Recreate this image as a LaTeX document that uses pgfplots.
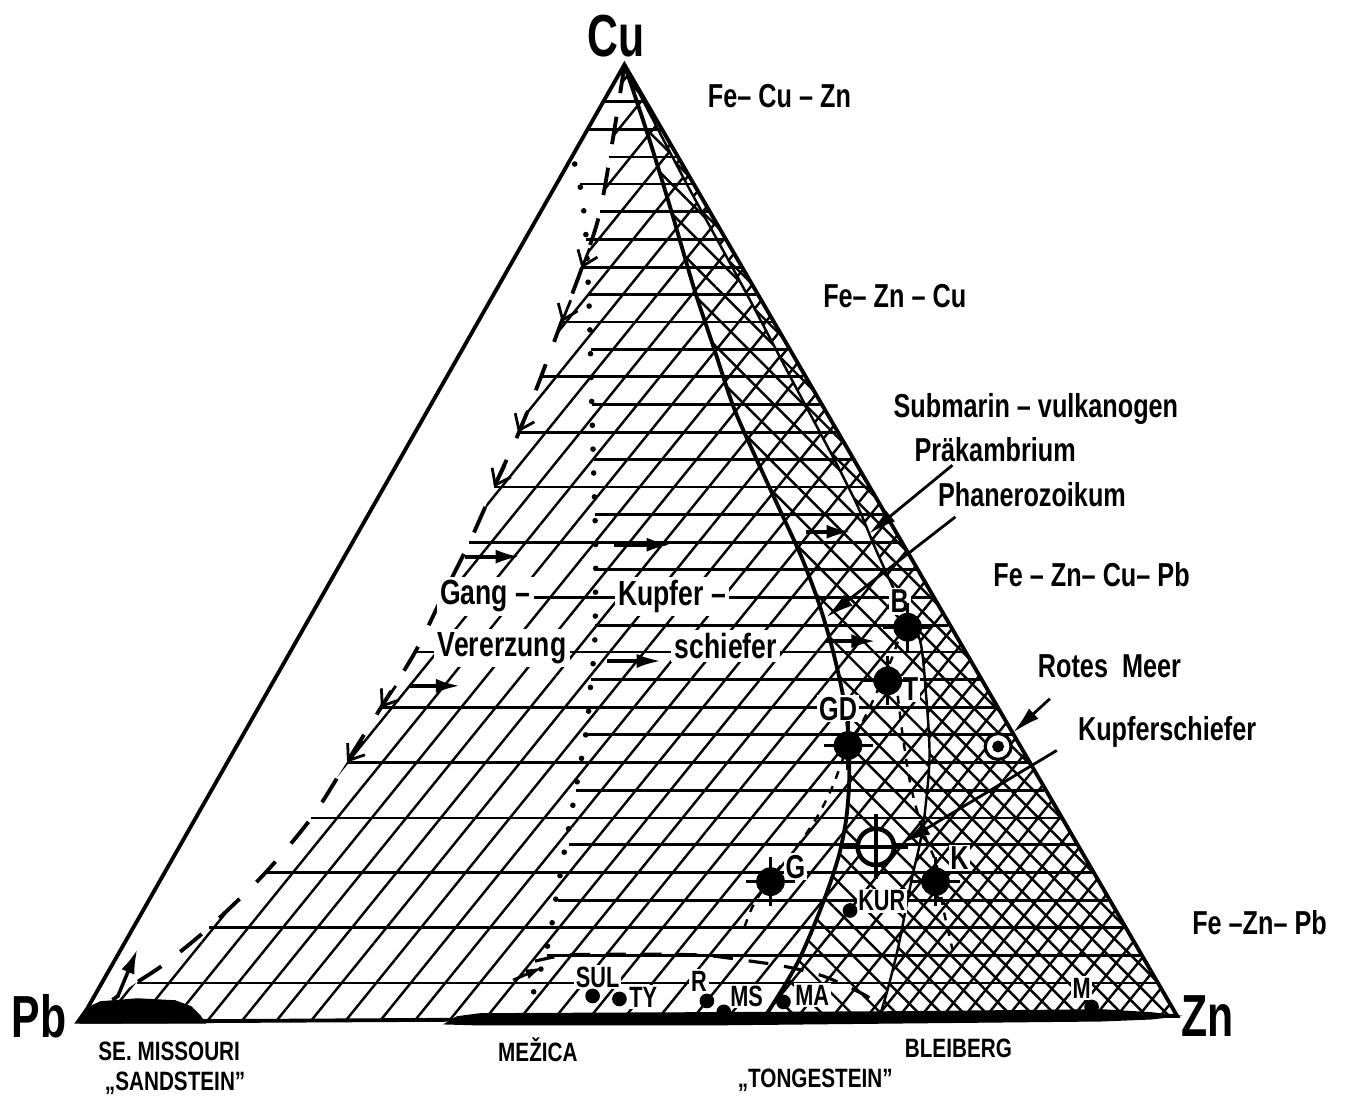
\documentclass[border=0pt]{standalone}
\usepackage{pgfplots}
\pgfplotsset{compat=1.18}
\usetikzlibrary{patterns.meta,arrows.meta}
\usepackage{fontspec}
\setmainfont{Liberation Sans}
\newfontfamily\cf[FakeStretch=0.76]{Liberation Sans}
\newfontfamily\cfs[FakeStretch=0.74]{Liberation Sans}
\newfontfamily\cfb[FakeStretch=0.78]{Liberation Sans}
\newfontfamily\cfbig[FakeStretch=0.72]{Liberation Sans}
\newcommand{\myMf}{\cf\bfseries\fontsize{9.5}{11}\selectfont}
\newcommand{\myLf}{\cf\bfseries\fontsize{10}{12}\selectfont}
\newcommand{\mySf}{\cfs\bfseries\fontsize{8.4}{10}\selectfont}
\newcommand{\myBf}{\cfb\bfseries\fontsize{7.6}{9}\selectfont}
\newcommand{\myBig}{\cfbig\bfseries\fontsize{17}{18}\selectfont}
\begin{document}
\begin{tikzpicture}
\begin{axis}[scale only axis, width=13.47cm, height=11.10cm,
  xmin=0, xmax=1347, ymin=0, ymax=1110, y dir=reverse,
  hide axis, clip=false]
\path (axis cs:0,0) rectangle (axis cs:1347,1110);

% ---- / hatching (right of dashed line)
\addplot[draw=none, pattern={Lines[angle=51,distance=0.27cm,line width=0.7pt]}] coordinates {
(620,65) (610,130) (595,215) (577,270) (557,323) (535,382) (513,437) (488,492) (463,548)
(437,600) (410,655) (375,712) (340,768) (305,823) (257,880) (200,935) (157,970) (127,990)
(95,1012) (72,1028) (1176,1022)} -- cycle;

% ---- \ hatching (right of curve A)
\addplot[draw=none, pattern={Lines[angle=135,distance=0.21cm,line width=0.7pt]}] coordinates {
(620,65) (645,140) (668,215) (690,290) (710,350) (730,410) (752,460) (775,510) (798,560)
(815,605) (828,648) (838,690) (844,725) (846,755) (846,790) (843,825) (836,860) (824,897)
(810,933) (795,967) (779,995) (762,1022) (1176,1022)} -- cycle;

% ---- dense band (right of curve B)
\addplot[draw=none, fill=white] coordinates {
(620,65) (680,180) (740,290) (790,385) (830,460) (855,510) (873,553) (897,605) (917,643)
(923,693) (927,760) (922,820) (917,850) (910,880) (903,915) (895,955) (885,995) (877,1022)
(1176,1022)} -- cycle;
\addplot[draw=none, pattern={Lines[angle=51,distance=0.17cm,line width=0.7pt]}] coordinates {
(620,65) (680,180) (740,290) (790,385) (830,460) (855,510) (873,553) (897,605) (917,643)
(923,693) (927,760) (922,820) (917,850) (910,880) (903,915) (895,955) (885,995) (877,1022)
(1176,1022)} -- cycle;
\addplot[draw=none, pattern={Lines[angle=135,distance=0.16cm,line width=0.7pt]}] coordinates {
(620,65) (680,180) (740,290) (790,385) (830,460) (855,510) (873,553) (897,605) (917,643)
(923,693) (927,760) (922,820) (917,850) (910,880) (903,915) (895,955) (885,995) (877,1022)
(1176,1022)} -- cycle;

% ---- horizontal lines
\addplot[black, line width=0.8pt, unbounded coords=jump] coordinates {
(599,102) (640,102) (0,nan)
(583,130) (656,130) (0,nan)
(605,158) (672,158) (0,nan)
(575,185) (688,185) (0,nan)
(595,213) (704,213) (0,nan)
(581,241) (720,241) (0,nan)
(577,269) (737,269) (0,nan)
(583,296) (752,296) (0,nan)
(557,324) (768,324) (0,nan)
(586,352) (785,352) (0,nan)
(536,379) (800,379) (0,nan)
(587,407) (817,407) (0,nan)
(514,435) (833,435) (0,nan)
(589,462) (849,462) (0,nan)
(489,490) (865,490) (0,nan)
(590,518) (881,518) (0,nan)
(464,546) (897,546) (0,nan)
(591,573) (913,573) (0,nan)
(437,601) (929,601) (0,nan)
(590,629) (946,629) (0,nan)
(410,656) (961,656) (0,nan)
(586,684) (978,684) (0,nan)
(375,712) (994,712) (0,nan)
(581,739) (1010,739) (0,nan)
(341,767) (1026,767) (0,nan)
(571,795) (1042,795) (0,nan)
(305,823) (1058,823) (0,nan)
(564,850) (1074,850) (0,nan)
(259,878) (1090,878) (0,nan)
(553,906) (1107,906) (0,nan)
(202,933) (1122,933) (0,nan)
(542,961) (1139,961) (0,nan)
(130,989) (1155,989)};

% ---- base deposits
\addplot[draw=black, fill=black] coordinates {
(68,1029) (78,1015) (93,1008) (130,1005) (168,1007) (184,1013) (193,1022) (198,1029)} -- cycle;
\addplot[draw=black, fill=black] coordinates {
(440,1030) (452,1023) (475,1020) (700,1019) (900,1018) (1100,1016) (1150,1019) (1176,1022)
(1150,1025) (1100,1027) (900,1029) (700,1031) (475,1031)} -- cycle;

% ---- triangle
\addplot[black, line width=1.1pt] coordinates {(72,1028) (620,65) (1176,1022) (72,1028)};

% ---- curve A (thick) and curve B (thin)
\addplot[black, line width=1.1pt, smooth] coordinates {
(620,65) (645,140) (668,215) (690,290) (710,350) (730,410) (752,460) (775,510) (798,560)
(815,605) (828,648) (838,690) (844,725) (846,755) (846,790) (843,825) (836,860) (824,897)
(810,933) (795,967) (779,995) (762,1022)};
\addplot[black, line width=0.7pt, smooth] coordinates {
(620,65) (680,180) (740,290) (790,385) (830,460) (855,510) (873,553) (897,605) (917,643)
(923,693) (927,760) (922,820) (917,850) (910,880) (903,915) (895,955) (885,995) (877,1022)};

% ---- dashed boundary (Gang-Vererzung)
\addplot[black, line width=1.1pt, smooth, dash pattern=on 0.28cm off 0.24cm] coordinates {
(620,66) (610,130) (595,215) (577,270) (557,323) (535,382) (513,437) (488,492) (463,548)
(437,600) (410,655) (375,712) (340,768) (305,823) (257,880) (200,935) (157,970) (127,990)
(105,1006)};

% ---- dotted boundary (Kupferschiefer)
\addplot[black, line width=1.6pt, smooth, line cap=round, dash pattern=on 0pt off 0.24cm] coordinates {
(570,165) (576,190) (580,220) (582,250) (585,322) (587,400) (589,472) (591,542) (591,592)
(590,650) (586,690) (582,733) (570,800) (559,860) (550,910) (545,942) (536,975) (528,1000)
(522,1018)};

% ---- dashed curve near base (Tongestein)
\addplot[black, line width=0.9pt, smooth, dash pattern=on 0.2cm off 0.16cm] coordinates {
(530,967) (560,961) (600,960) (650,960) (700,961) (740,966) (780,972) (820,982) (860,1000) (875,1010)};

% ---- dashed fields around B, T, GD, G, K
\addplot[black, line width=0.7pt, smooth, dash pattern=on 0.08cm off 0.08cm] coordinates {
(905,615) (890,660) (870,705) (855,735) (845,750) (830,790) (815,820) (795,850) (770,880) (750,910) (740,935)};
\addplot[black, line width=0.7pt, smooth, dash pattern=on 0.08cm off 0.08cm] coordinates {
(895,700) (900,740) (908,790) (920,835) (934,870) (940,910) (950,955)};

% ---- arrows along dashed line
\addplot[black, line width=0.8pt, -{Straight Barb[length=4pt,width=6pt]}] coordinates {(585,250) (577,270)};
\addplot[black, line width=0.8pt, -{Straight Barb[length=4pt,width=6pt]}] coordinates {(566,302) (557,324)};
\addplot[black, line width=0.8pt, -{Straight Barb[length=4pt,width=6pt]}] coordinates {(523,413) (513,435)};
\addplot[black, line width=0.8pt, -{Straight Barb[length=4pt,width=6pt]}] coordinates {(500,468) (489,490)};
\addplot[black, line width=0.8pt, -{Straight Barb[length=4pt,width=6pt]}] coordinates {(448,580) (437,601)};
\addplot[black, line width=0.8pt, -{Straight Barb[length=4pt,width=6pt]}] coordinates {(390,690) (375,712)};
\addplot[black, line width=0.8pt, -{Straight Barb[length=4pt,width=6pt]}] coordinates {(356,745) (341,767)};

% ---- interior arrows
\addplot[black, line width=1.1pt, -{Latex[length=7pt,width=4pt]}] coordinates {(403,690) (455,690)};
\addplot[black, line width=1.1pt, -{Latex[length=7pt,width=4pt]}] coordinates {(460,560) (515,560)};
\addplot[black, line width=1.1pt, -{Latex[length=7pt,width=4pt]}] coordinates {(610,548) (667,548)};
\addplot[black, line width=1.1pt, -{Latex[length=7pt,width=4pt]}] coordinates {(602,665) (657,665)};
\addplot[black, line width=1.1pt, -{Latex[length=7pt,width=4pt]}] coordinates {(803,535) (848,535)};
\addplot[black, line width=1.1pt, -{Latex[length=7pt,width=4pt]}] coordinates {(823,645) (873,645)};
\addplot[black, line width=1pt, -{Latex[length=7pt,width=4pt]}] coordinates {(110,1003) (130,955)};
\addplot[black, line width=0.8pt, -{Latex[length=5pt,width=3pt]}] coordinates {(508,986) (538,973)};

% ---- label arrows
\addplot[black, line width=0.8pt, -{Latex[length=8pt,width=4pt]}] coordinates {(950,468) (866,537)};
\addplot[black, line width=0.8pt, -{Latex[length=8pt,width=4pt]}] coordinates {(953,520) (823,621)};
\addplot[black, line width=0.8pt, -{Latex[length=8pt,width=4pt]}] coordinates {(1048,703) (1011,737)};
\addplot[black, line width=0.8pt, -{Latex[length=8pt,width=4pt]}] coordinates {(1055,755) (900,848)};

% ---- big deposit dots with ticks
\addplot[only marks, mark=+, mark size=7pt, mark options={line width=0.9pt}] coordinates {
(905,631) (885,685) (845,750) (767,887) (933,887)};
\addplot[only marks, mark=*, mark size=3.9pt, mark options={fill=black}] coordinates {
(905,631) (885,685) (845,750) (767,887) (933,887)};

% ---- Kupferschiefer target
\addplot[only marks, mark=*, mark size=5.2pt, mark options={fill=white, draw=black, line width=1.3pt}] coordinates {(873,852)};
\addplot[only marks, mark=+, mark size=9.3pt, mark options={line width=1.3pt}] coordinates {(873,852)};

% ---- Rotes Meer
\addplot[only marks, mark=*, mark size=3.7pt, mark options={fill=white, draw=black, line width=0.9pt}] coordinates {(996,751)};
\addplot[only marks, mark=*, mark size=1.5pt, mark options={fill=black}] coordinates {(996,751)};

% ---- small dots
\addplot[only marks, mark=*, mark size=1.9pt, mark options={fill=black}] coordinates {
(847,916) (588,1002) (615,1005) (703,1007) (720,1018) (780,1008) (1090,1013)};

% ---- labels
\node[font=\myBig] at (axis cs:612,36) {Cu};
\node[font=\myBig] at (axis cs:31,1022) {Pb};
\node[font=\myBig] at (axis cs:1207,1022) {Zn};

\node[font=\myMf] at (axis cs:776,97) {Fe– Cu – Zn};
\node[font=\myMf] at (axis cs:892,298) {Fe– Zn – Cu};
\node[font=\myMf] at (axis cs:1034,411) {Submarin – vulkanogen};
\node[font=\myMf] at (axis cs:993,452) {Präkambrium};
\node[font=\myMf] at (axis cs:1030,498) {Phanerozoikum};
\node[font=\myMf] at (axis cs:1090,578) {Fe – Zn– Cu– Pb};
\node[font=\myMf] at (axis cs:1108,670) {Rotes\ \ Meer};
\node[font=\myMf] at (axis cs:1166,736) {Kupferschiefer};
\node[font=\myMf] at (axis cs:1259,928) {Fe –Zn– Pb};

\node[font=\myLf, fill=white, inner sep=1pt] at (axis cs:480,600) {Gang –};
\node[font=\myLf, fill=white, inner sep=1pt] at (axis cs:668,600) {Kupfer –};
\node[font=\myLf, fill=white, inner sep=1pt] at (axis cs:497,652) {Vererzung};
\node[font=\myLf, fill=white, inner sep=1pt] at (axis cs:722,650) {schiefer};

\node[font=\myMf, fill=white, inner sep=0.5pt] at (axis cs:897,605) {B};
\node[font=\myMf, fill=white, inner sep=0.5pt] at (axis cs:908,693) {T};
\node[font=\myMf, fill=white, inner sep=0.5pt] at (axis cs:835,713) {GD};
\node[font=\myMf, fill=white, inner sep=0.5pt] at (axis cs:792,872) {G};
\node[font=\myMf, fill=white, inner sep=0.5pt] at (axis cs:957,863) {K};

\node[font=\mySf, fill=white, inner sep=0.5pt] at (axis cs:593,983) {SUL};
\node[font=\mySf, fill=white, inner sep=0.5pt] at (axis cs:639,1003) {TY};
\node[font=\mySf, fill=white, inner sep=0.5pt] at (axis cs:695,987) {R};
\node[font=\mySf, fill=white, inner sep=0.5pt] at (axis cs:743,1002) {MS};
\node[font=\mySf, fill=white, inner sep=0.5pt] at (axis cs:809,1001) {MA};
\node[font=\mySf, fill=white, inner sep=0.5pt] at (axis cs:879,906) {KUR};
\node[font=\mySf, fill=white, inner sep=0.5pt] at (axis cs:1080,994) {M};

\node[font=\myBf] at (axis cs:162,1058) {SE. MISSOURI};
\node[font=\myBf] at (axis cs:168,1090) {„SANDSTEIN”};
\node[font=\myBf] at (axis cs:533,1056) {MEŽICA};
\node[font=\myBf] at (axis cs:812,1087) {„TONGESTEIN”};
\node[font=\myBf] at (axis cs:956,1055) {BLEIBERG};
\end{axis}
\end{tikzpicture}
\end{document}
